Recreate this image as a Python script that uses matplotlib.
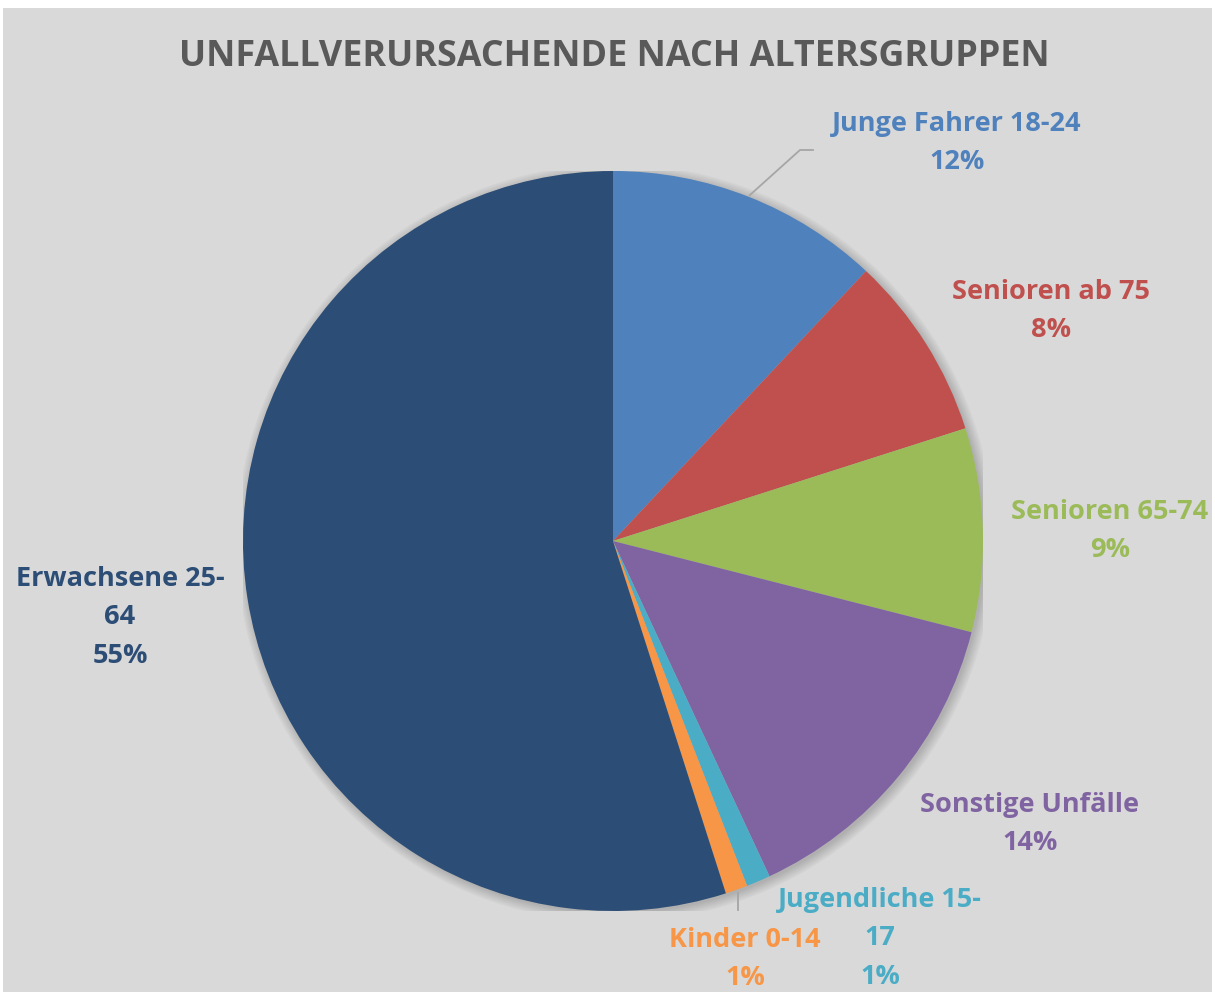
import numpy as np
import matplotlib.pyplot as plt
from matplotlib.patches import Rectangle, Circle

# Anteile in Prozent, im Uhrzeigersinn ab 12 Uhr
categories = ['Junge Fahrer 18-24', 'Senioren ab 75', 'Senioren 65-74', 'Sonstige Unfälle',
              'Jugendliche 15-\n17', 'Kinder 0-14', 'Erwachsene 25-\n64']
values = [12.0, 8.1, 8.9, 14.1, 1.05, 0.97, 55.0]
colors = ['#4F81BD', '#C0504D', '#9BBB59', '#8064A2', '#4BACC6', '#F79646', '#2C4D75']

W, H = 1215, 992
CX, CY, R = 613, 541, 370
LINE = 38.3  # Zeilenabstand der Labels in Pixeln

# Label-Mittelpunkte in Pixeln (erste Zeile)
label_pos = [(957, 124), (1051, 292), (1110, 512), (1030, 805), (880, 900), (745, 940), (120, 579)]

plt.rcParams['font.family'] = ['Open Sans', 'DejaVu Sans']


def px(x, y):
    return (x - CX) / R, (CY - y) / R


fig = plt.figure(figsize=(W / 100, H / 100), dpi=100)
fig.patch.set_facecolor('white')
fig.patches.append(Rectangle((3 / W, 0), (W - 6) / W, (H - 8) / H, transform=fig.transFigure,
                             facecolor='#D9D9D9', edgecolor='none', zorder=-10))

ax = fig.add_axes([(CX - R) / W, (H - CY - R) / H, 2 * R / W, 2 * R / H])

# weicher Schatten
for k in range(8):
    ax.add_patch(Circle((0.006, -0.006), 1.0 + k * 0.0035, color='black', alpha=0.025, lw=0, zorder=0))

wedges, _ = ax.pie(values, colors=colors, startangle=90, counterclock=False, radius=1.0,
                   wedgeprops=dict(linewidth=0), normalize=True)
for w in wedges:
    w.set_zorder(2)

ax.set_xlim(-1, 1)
ax.set_ylim(-1, 1)
ax.set_aspect('equal')
ax.axis('off')
ax.patch.set_alpha(0)

total = sum(values)
for i, (name, v) in enumerate(zip(categories, values)):
    lines = name.split('\n') + ['{:.0f}%'.format(v / total * 100)]
    x0, y0 = label_pos[i]
    for j, line in enumerate(lines):
        lx, ly = px(x0, y0 + j * LINE)
        ax.text(lx, ly, line, color=colors[i], fontsize=19.5, fontweight='bold',
                ha='center', va='center', clip_on=False)

# Führungslinien
def edge(i):
    w = wedges[i]
    a = np.deg2rad((w.theta1 + w.theta2) / 2)
    return np.cos(a), np.sin(a)

ex, ey = edge(0)
bx, by = px(800, 150)
cx2, cy2 = px(813, 150)
ax.plot([ex * 1.005, bx, cx2], [ey * 1.005, by, cy2], color='#A6A6A6', lw=1.3, clip_on=False, zorder=1)
ex, ey = edge(5)
kx, ky = px(739, 910)
ax.plot([ex * 1.01, ex * 1.01], [ey * 1.01, ky], color='#A6A6A6', lw=1.3, clip_on=False, zorder=1)

fig.text(614 / W, 1 - 57 / H, 'UNFALLVERURSACHENDE NACH ALTERSGRUPPEN', ha='center', va='center',
         fontsize=25.8, fontweight='bold', color='#595959')

fig.savefig('out.png', dpi=100, facecolor=fig.get_facecolor())
